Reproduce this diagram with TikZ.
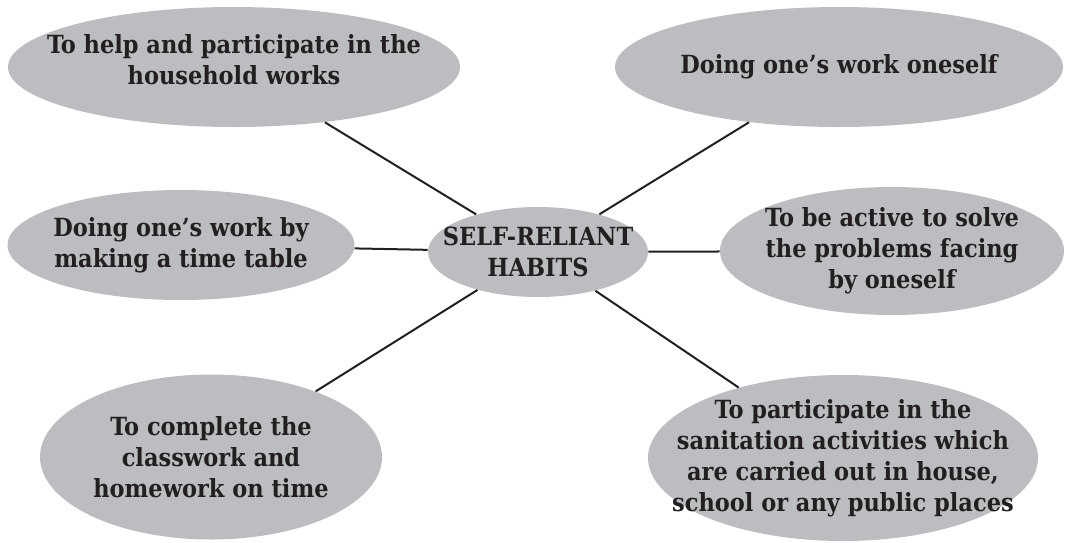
\documentclass[tikz,border=0pt]{standalone}
\usepackage{xcolor}
\usepackage{tikz}
\usepackage{fontspec}
\setmainfont{DejaVu Serif Condensed}
\usetikzlibrary{shapes.geometric}

\definecolor{bubblegrey}{HTML}{BCBDC0}
\definecolor{inkdark}{HTML}{231F20}

\begin{document}
\begin{tikzpicture}[x=0.5pt, y=-0.5pt,
    bubble/.style={ellipse, fill=bubblegrey, text=inkdark, inner sep=-40pt, align=center,
        font=\bfseries\fontsize{12.5}{15.5}\selectfont},
    spoke/.style={draw=inkdark, line width=1pt}]
    \useasboundingbox (0,0) rectangle (1066,542);

    \node (hub) [bubble, minimum width=110pt, minimum height=45pt] at (538,252) {SELF-RELIANT\\HABITS};

    \node (household) [bubble, minimum width=226pt, minimum height=60pt, text depth=8pt] at (234,67) {To help and participate in the\\household works};
    \node (oneself) [bubble, minimum width=224pt, minimum height=60pt] at (839,67) {Doing one’s work oneself};
    \node (timetable) [bubble, minimum width=173.5pt, minimum height=55pt] at (181,245) {Doing one’s work by\\making a time table};
    \node (problems) [bubble, minimum width=172pt, minimum height=64pt] at (892,251) {To be active to solve\\the problems facing\\by oneself};
    \node (homework) [bubble, minimum width=171pt, minimum height=82.5pt] at (211,457) {To complete the\\classwork and\\homework on time};
    \node (sanitation) [bubble, minimum width=195pt, minimum height=83pt] at (843,458) {To participate in the\\sanitation activities which\\are carried out in house,\\school or any public places};

    \draw[spoke] (hub) -- (household);
    \draw[spoke] (hub) -- (oneself);
    \draw[spoke] (hub) -- (timetable);
    \draw[spoke] (hub) -- (problems);
    \draw[spoke] (hub) -- (homework);
    \draw[spoke] (hub) -- (sanitation);
\end{tikzpicture}
\end{document}
